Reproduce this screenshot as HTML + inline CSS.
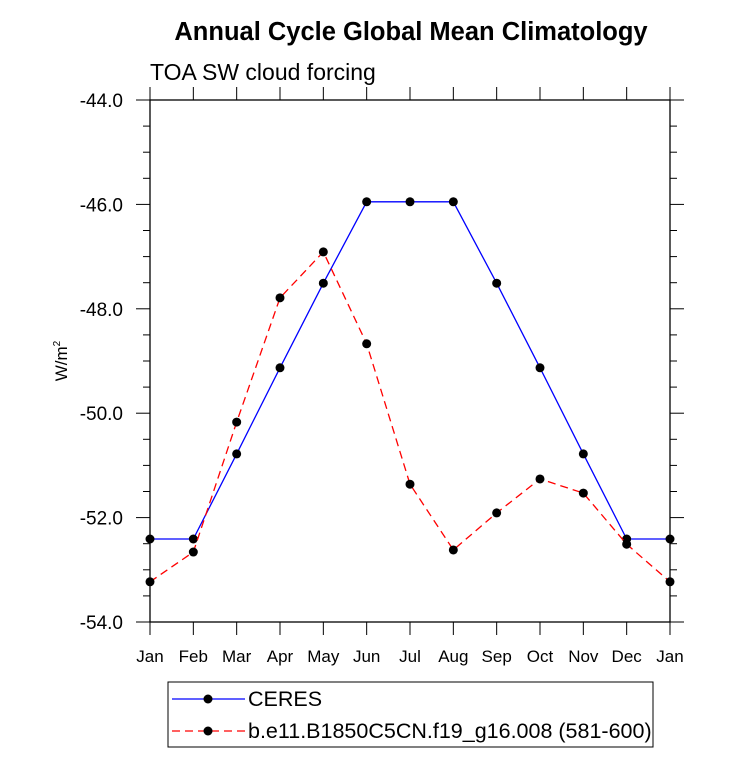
<!DOCTYPE html>
<html><head><meta charset="utf-8"><style>body{margin:0;background:#fff}svg{display:block;font-family:"Liberation Sans",sans-serif}</style></head>
<body>
<svg id="c" width="733" height="772">
<text x="411" y="40" font-size="25.5" font-weight="bold" text-anchor="middle">Annual Cycle Global Mean Climatology</text>
<text x="150" y="80" font-size="23">TOA SW cloud forcing</text>
<text transform="translate(67,361) rotate(-90)" font-size="17" text-anchor="middle">W/m<tspan font-size="10" dy="-7">2</tspan></text>
<g id="axes"></g><g id="series"></g>
<rect x="168" y="682" width="485" height="65" fill="none" stroke="#000"/>
<g><line x1="172" y1="699" x2="245" y2="699" stroke="#00f" stroke-width="1.3"/><circle cx="208" cy="699" r="4.5"/><text x="248" y="706" font-size="21.5">CERES</text></g>
<g><line x1="172" y1="731" x2="245" y2="731" stroke="#f00" stroke-width="1.3" stroke-dasharray="8,5"/><circle cx="208" cy="731" r="4.5"/><text x="248" y="738" font-size="21.5">b.e11.B1850C5CN.f19_g16.008 (581-600)</text></g>
</svg>
<script>
const months=["Jan","Feb","Mar","Apr","May","Jun","Jul","Aug","Sep","Oct","Nov","Dec","Jan"];
const ceres=[-52.41,-52.41,-50.78,-49.13,-47.51,-45.95,-45.95,-45.95,-47.51,-49.13,-50.78,-52.41,-52.41];
const model=[-53.23,-52.66,-50.17,-47.79,-46.91,-48.67,-51.36,-52.62,-51.91,-51.26,-51.53,-52.51,-53.23];
const yTicks=[-44,-46,-48,-50,-52,-54];
const X0=150,X1=670,Y0=100,Y1=622,YMAX=-44,YMIN=-54;
const xs=i=>X0+(X1-X0)*i/(months.length-1);
const ys=v=>Y0+(YMAX-v)/(YMAX-YMIN)*(Y1-Y0);
const NS="http://www.w3.org/2000/svg";
function mk(p,t,a){const e=document.createElementNS(NS,t);for(const k in a)e.setAttribute(k,a[k]);p.appendChild(e);return e;}
const ax=document.getElementById('axes');
const fr=mk(ax,'rect',{x:X0,y:Y0,width:X1-X0,height:Y1-Y0,fill:'none',stroke:'#000','stroke-width':1.3});


for(let v=YMAX;v>=YMIN-1e-9;v-=0.5){const y=ys(v);const maj=Math.abs(v/2-Math.round(v/2))<1e-6;const L=maj?14:7;
mk(ax,'line',{x1:X0-L,y1:y,x2:X0,y2:y,stroke:'#000'});mk(ax,'line',{x1:X1,y1:y,x2:X1+L,y2:y,stroke:'#000'});}
yTicks.forEach(v=>{const t=mk(ax,'text',{x:123,y:ys(v)+7,'font-size':19,'text-anchor':'end'});t.textContent=v.toFixed(1);

});
months.forEach((m,i)=>{const x=xs(i);mk(ax,'line',{x1:x,y1:Y0-13,x2:x,y2:Y0,stroke:'#000'});mk(ax,'line',{x1:x,y1:Y1,x2:x,y2:Y1+13,stroke:'#000'});
const t=mk(ax,'text',{x:x,y:Y1+40,'font-size':17,'text-anchor':'middle'});t.textContent=m;

});
const sg=document.getElementById('series');
function draw(vals,col,dash,name){const g=mk(sg,'g',{});


mk(g,'polyline',{points:vals.map((v,i)=>xs(i)+','+ys(v)).join(' '),fill:'none',stroke:col,'stroke-width':1.3,'stroke-dasharray':dash});
vals.forEach((v,i)=>{const c=mk(g,'circle',{cx:xs(i),cy:ys(v),r:4.5,fill:'#000'});

});}
draw(ceres,'#00f','none','ceres-series');
draw(model,'#f00','8,5','model-series');
</script>
</body></html>
